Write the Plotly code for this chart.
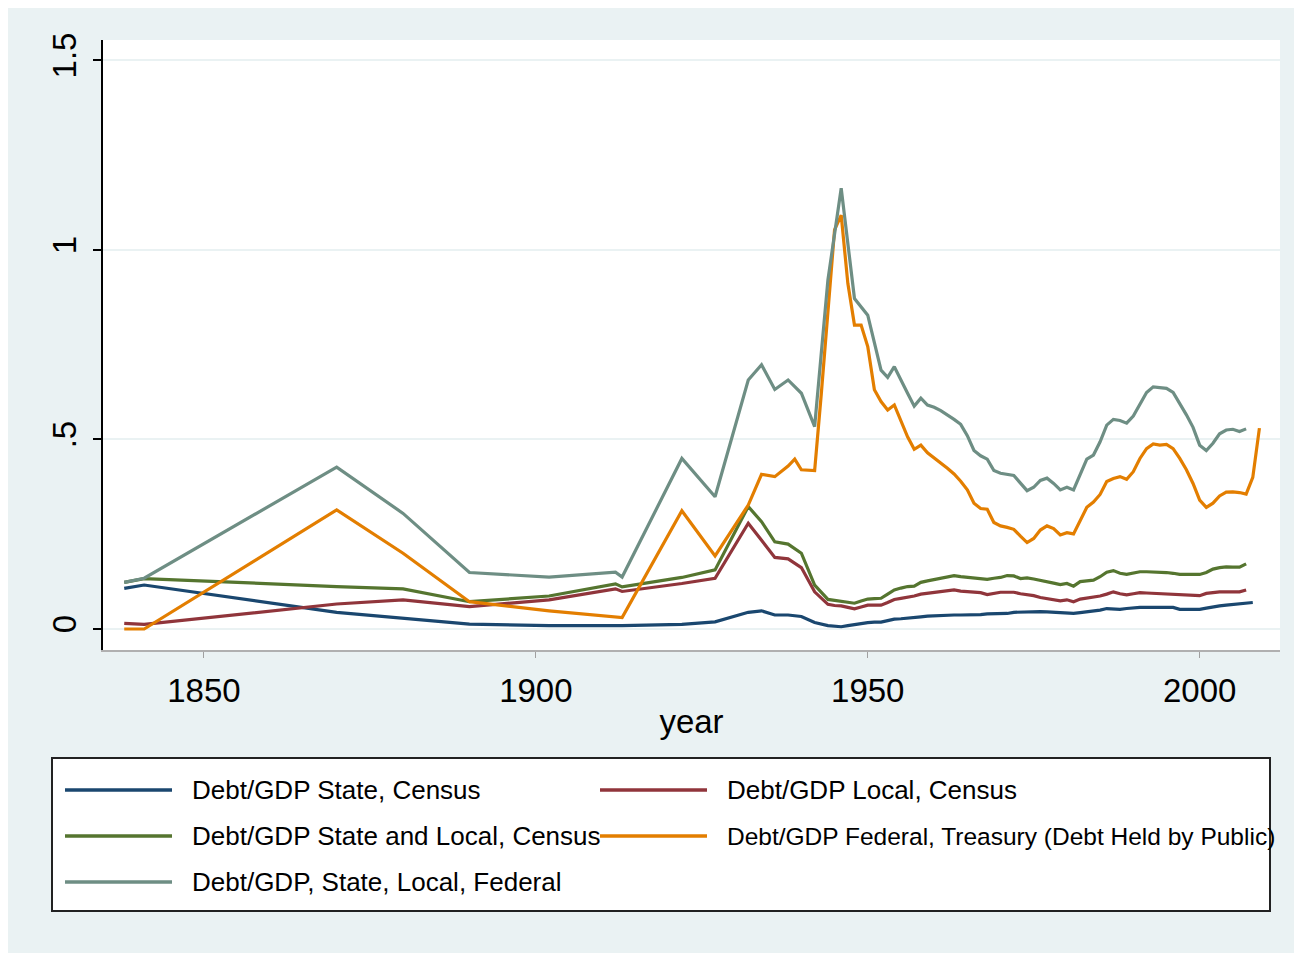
import plotly.graph_objects as go

# ---------------- data ----------------
early_years = [1838, 1841, 1870, 1880, 1890, 1902, 1912, 1913, 1922, 1927,
               1932, 1934, 1936, 1938, 1940, 1942]
annual_years = list(range(1944, 2008))

state_early = [0.107, 0.116, 0.044, 0.028, 0.013, 0.009, 0.009, 0.009, 0.012, 0.019,
               0.044, 0.048, 0.037, 0.037, 0.033, 0.017]
state_annual = [0.009, 0.007, 0.006, 0.009, 0.012, 0.015, 0.017, 0.018, 0.018, 0.022,
                0.026, 0.027, 0.028, 0.030, 0.032, 0.034, 0.035, 0.037, 0.037, 0.037,
                0.037, 0.037, 0.037, 0.038, 0.040, 0.040, 0.039, 0.041, 0.044, 0.045,
                0.045, 0.046, 0.046, 0.045, 0.044, 0.043, 0.043, 0.041, 0.043, 0.045,
                0.046, 0.050, 0.054, 0.053, 0.052, 0.054, 0.056, 0.057, 0.057, 0.057,
                0.057, 0.057, 0.057, 0.052, 0.052, 0.052, 0.052, 0.055, 0.059, 0.061,
                0.063, 0.065, 0.066, 0.068]
state_years = early_years + annual_years + [2008]
state_vals = state_early + state_annual + [0.070]

local_early = [0.015, 0.012, 0.066, 0.077, 0.059, 0.077, 0.106, 0.099, 0.120, 0.134,
               0.279, 0.235, 0.189, 0.185, 0.162, 0.098]
local_annual = [0.065, 0.062, 0.061, 0.057, 0.053, 0.058, 0.063, 0.063, 0.063, 0.070,
                0.078, 0.081, 0.083, 0.087, 0.092, 0.094, 0.097, 0.100, 0.101, 0.103,
                0.100, 0.098, 0.097, 0.096, 0.091, 0.094, 0.097, 0.097, 0.097, 0.093,
                0.091, 0.088, 0.083, 0.080, 0.077, 0.074, 0.077, 0.072, 0.079, 0.081,
                0.083, 0.087, 0.092, 0.098, 0.093, 0.090, 0.093, 0.096, 0.095, 0.094,
                0.094, 0.093, 0.091, 0.090, 0.089, 0.089, 0.088, 0.094, 0.097, 0.098,
                0.098, 0.098, 0.098, 0.103]
local_years = early_years + annual_years
local_vals = local_early + local_annual

sl_early = [0.123, 0.133, 0.112, 0.106, 0.072, 0.087, 0.119, 0.111, 0.136, 0.156,
            0.323, 0.283, 0.230, 0.224, 0.200, 0.116]
sl_annual = [0.078, 0.075, 0.072, 0.070, 0.068, 0.074, 0.079, 0.080, 0.081, 0.092,
             0.103, 0.108, 0.112, 0.113, 0.123, 0.127, 0.131, 0.135, 0.138, 0.141,
             0.138, 0.136, 0.133, 0.132, 0.131, 0.134, 0.136, 0.141, 0.140, 0.133,
             0.135, 0.132, 0.129, 0.125, 0.121, 0.117, 0.120, 0.113, 0.125, 0.127,
             0.129, 0.138, 0.150, 0.154, 0.147, 0.144, 0.147, 0.151, 0.151, 0.151,
             0.151, 0.149, 0.147, 0.144, 0.144, 0.144, 0.144, 0.149, 0.158, 0.162,
             0.164, 0.163, 0.163, 0.172]
sl_years = early_years + annual_years
sl_vals = sl_early + sl_annual

fed_years = [1838, 1841, 1870, 1880, 1890, 1902, 1913, 1922, 1927, 1932, 1934, 1936,
             1938, 1939, 1940, 1942, 1943] + list(range(1944, 2010))
fed_vals = [0.0, 0.0, 0.314, 0.200, 0.072, 0.048, 0.030, 0.312, 0.193, 0.327, 0.408, 0.402,
            0.430, 0.448, 0.420, 0.418, 0.620,
            0.833, 1.053, 1.092, 0.912, 0.802, 0.802, 0.745, 0.631, 0.600, 0.578,
            0.591, 0.550, 0.507, 0.474, 0.485, 0.465, 0.452, 0.439, 0.424, 0.409,
            0.390, 0.367, 0.332, 0.318, 0.316, 0.281, 0.272, 0.268, 0.263, 0.245,
            0.228, 0.239, 0.261, 0.272, 0.265, 0.248, 0.254, 0.251, 0.285, 0.321,
            0.335, 0.355, 0.389, 0.397, 0.402, 0.395, 0.415, 0.450, 0.476, 0.488,
            0.485, 0.487, 0.476, 0.450, 0.420, 0.384, 0.340, 0.321, 0.332, 0.351,
            0.361, 0.362, 0.360, 0.356, 0.400, 0.530]

tot_years = [1838, 1841, 1870, 1880, 1890, 1902, 1912, 1913, 1922, 1927, 1932, 1934,
             1936, 1938, 1940, 1942, 1944, 1946, 1948, 1950, 1952] + list(range(1953, 2008))
tot_vals = [0.123, 0.134, 0.427, 0.305, 0.149, 0.137, 0.150, 0.137, 0.450, 0.349, 0.657, 0.697,
            0.632, 0.657, 0.622, 0.534, 0.921, 1.163, 0.872, 0.828, 0.683,
            0.664, 0.692, 0.655, 0.622, 0.588, 0.609, 0.591, 0.585, 0.576, 0.565,
            0.553, 0.540, 0.510, 0.471, 0.457, 0.448, 0.418, 0.411, 0.408, 0.405,
            0.385, 0.365, 0.374, 0.392, 0.398, 0.384, 0.367, 0.374, 0.367, 0.410,
            0.448, 0.459, 0.494, 0.538, 0.553, 0.550, 0.543, 0.562, 0.595, 0.624,
            0.639, 0.637, 0.635, 0.624, 0.595, 0.565, 0.532, 0.485, 0.471, 0.490,
            0.515, 0.525, 0.527, 0.521, 0.528]

series_names = ["Debt/GDP State, Census", "Debt/GDP Local, Census",
                "Debt/GDP State and Local, Census",
                "Debt/GDP Federal, Treasury (Debt Held by Public)",
                "Debt/GDP, State, Local, Federal"]
series_colors = ["#1A476F", "#90353B", "#55752F", "#E37E00", "#6E8E84"]

x_ticks = [1850, 1900, 1950, 2000]
y_ticks = [0, 0.5, 1, 1.5]
y_tick_labels = ["0", ".5", "1", "1.5"]

# ---------------- figure ----------------
OFF = 8  # page body margin
W, H = 1302 - OFF, 953 - OFF
L, R, T, B = 103 - OFF, 1280 - OFF, 40 - OFF, 650 - OFF
FONT = "Liberation Sans, Arial, sans-serif"

fig = go.Figure()
series = [(state_years, state_vals), (local_years, local_vals), (sl_years, sl_vals),
          (fed_years, fed_vals), (tot_years, tot_vals)]
for (xs, ys), name, col in zip(series, series_names, series_colors):
    fig.add_trace(go.Scatter(x=xs, y=ys, mode="lines", name=name,
                             line=dict(color=col, width=3.2), showlegend=False))


def px(x):
    return (x - OFF - L) / (R - L)


def py(y):
    return (B - (y - OFF)) / (B - T)


shapes = []
annotations = []
# legend box
shapes.append(dict(type="rect", xref="paper", yref="paper", x0=px(52), x1=px(1270),
                   y0=py(911), y1=py(758), fillcolor="white",
                   line=dict(color="#222222", width=2), layer="below"))

legend_pos = [(65, 190, 790), (600, 725, 790), (65, 190, 836), (600, 725, 836), (65, 190, 882)]
legend_sizes = [26, 26, 26, 24.5, 26]
for (lx, tx, ly), name, col, fs in zip(legend_pos, series_names, series_colors, legend_sizes):
    shapes.append(dict(type="line", xref="paper", yref="paper", x0=px(lx), x1=px(lx + 107),
                       y0=py(ly), y1=py(ly), line=dict(color=col, width=3.5)))
    annotations.append(dict(xref="paper", yref="paper", x=px(tx), y=py(ly), text=name,
                            showarrow=False, xanchor="left", yanchor="middle",
                            font=dict(family=FONT, size=fs, color="black")))

fig.update_layout(
    width=W, height=H,
    margin=dict(l=L, r=W - R, t=T, b=H - B, pad=0),
    paper_bgcolor="#EAF2F3",
    plot_bgcolor="white",
    font=dict(family=FONT, color="black"),
    shapes=shapes,
    annotations=annotations,
    xaxis=dict(range=[1834.8, 2012.1], tickvals=x_ticks, ticks="outside", ticklen=6,
               tickcolor="#a0a0a0", tickwidth=1, showgrid=False, zeroline=False,
               showline=True, linecolor="#b0b0b0", linewidth=1.5,
               tickfont=dict(size=33, family=FONT), ticklabelstandoff=5,
               title=dict(text="year", font=dict(size=33, family=FONT), standoff=2)),
    yaxis=dict(range=[-0.0554, 1.554], tickvals=y_ticks, ticktext=y_tick_labels,
               tickangle=-90, ticks="outside", ticklen=8, tickcolor="black", tickwidth=1.5,
               showgrid=True, gridcolor="#EAF2F3", gridwidth=2, zeroline=False,
               showline=True, linecolor="black", linewidth=1.5,
               tickfont=dict(size=33, family=FONT), ticklabelstandoff=4),
)

fig.write_html("out.html")
